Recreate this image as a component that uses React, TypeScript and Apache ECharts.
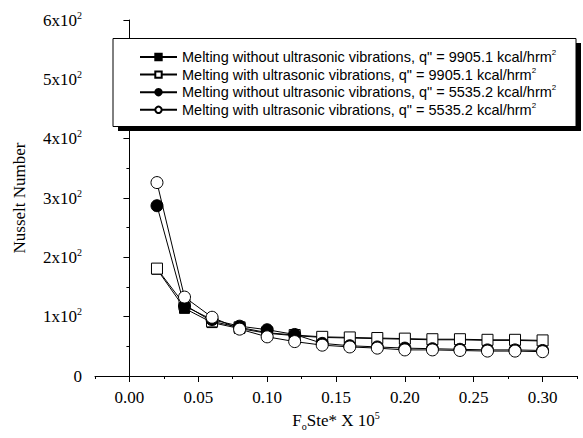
import React, { useEffect, useRef } from "react";
import * as echarts from "echarts";

const xValues = [0.02, 0.04, 0.06, 0.08, 0.1, 0.12, 0.14, 0.16, 0.18, 0.2, 0.22, 0.24, 0.26, 0.28, 0.3];
const withoutHigh = [180, 114, 90, 80, 72, 68, 65, 64, 63, 62, 61, 61, 60, 60, 59];
const withHigh = [181, 120, 92, 82, 73, 69, 66, 65, 64, 63, 62, 62, 61, 61, 60];
const withoutLow = [287, 118, 95, 84, 78, 70, 55, 51, 49, 47, 46, 45, 44, 44, 43];
const withLow = [326, 133, 99, 79, 66, 58, 52, 49, 47, 44, 44, 43, 42, 42, 41];

const seriesNames = [
  'Melting without ultrasonic vibrations, q" = 9905.1 kcal/hrm',
  'Melting with ultrasonic vibrations, q" = 9905.1 kcal/hrm',
  'Melting without ultrasonic vibrations, q" = 5535.2 kcal/hrm',
  'Melting with ultrasonic vibrations, q" = 5535.2 kcal/hrm',
];
const majorXTicks = [0, 0.05, 0.1, 0.15, 0.2, 0.25, 0.3];
const minorXTicks = [-0.025, 0.025, 0.075, 0.125, 0.175, 0.225, 0.275, 0.325];

const serif = "Liberation Serif";
const sans = "Liberation Sans";

export default function App() {
  const ref = useRef<HTMLDivElement>(null);
  useEffect(() => {
    if (!ref.current) return;
    const chart = echarts.init(ref.current, null, { renderer: "svg" });
    const mk = (name: string, data: number[], symbol: string, size: number, fill: string) => ({
      name,
      type: "line",
      data: xValues.map((x, i) => [x, data[i]]),
      symbol,
      symbolSize: size,
      showAllSymbol: true,
      lineStyle: { color: "#000", width: 1 },
      itemStyle: { color: fill, borderColor: "#000", borderWidth: 1 },
      emphasis: { disabled: true },
    });
    chart.setOption({
      animation: false,
      backgroundColor: "#fff",
      grid: { left: 95, right: 6, top: 20, bottom: 62 },
      graphic: [
        { type: "rect", shape: { x: 118, y: 43, width: 463, height: 88 }, style: { fill: "#000" }, z: 0 },
        { type: "rect", shape: { x: 113, y: 38.5, width: 463, height: 88 }, style: { fill: "#fff", stroke: "#000", lineWidth: 1 }, z: 1 },
      ],
      legend: {
        orient: "vertical",
        left: 139,
        top: 48.5,
        padding: 0,
        itemWidth: 37,
        itemHeight: 8,
        itemGap: 1.6,
        z: 5,
        data: seriesNames,
        formatter: (n: string) => `{a|${n}}{s|2}`,
        textStyle: {
          fontFamily: sans,
          fontSize: 14.5,
          color: "#000",
          rich: {
            a: { fontFamily: sans, fontSize: 14.5, color: "#000" },
            s: { fontFamily: sans, fontSize: 8, color: "#000", padding: [0, 0, 9, 0] },
          },
        },
      },
      xAxis: [
        {
          type: "value",
          min: -0.025,
          max: 0.325,
          position: "bottom",
          name: "{a|F}{b|o}{a|Ste* X 10}{s|5}",
          nameLocation: "middle",
          nameGap: 32,
          nameTextStyle: {
            fontFamily: serif,
            fontSize: 17,
            color: "#000",
            rich: {
              a: { fontFamily: serif, fontSize: 17, color: "#000" },
              b: { fontFamily: serif, fontSize: 10, color: "#000", padding: [12, 0, 0, 0] },
              s: { fontFamily: serif, fontSize: 10, color: "#000", padding: [0, 0, 10, 0] },
            },
          },
          axisLine: { show: true, lineStyle: { color: "#000", width: 1 } },
          axisTick: { show: true, length: 6, inside: false, lineStyle: { color: "#000" }, customValues: majorXTicks },
          axisLabel: {
            show: true,
            margin: 13,
            customValues: majorXTicks,
            formatter: (v: number) => v.toFixed(2),
            fontFamily: serif,
            fontSize: 17,
            color: "#000",
          },
          splitLine: { show: false },
        },
        {
          type: "value",
          min: -0.025,
          max: 0.325,
          position: "bottom",
          offset: 0,
          axisLine: { show: false },
          axisTick: { show: true, length: 3, lineStyle: { color: "#000" }, customValues: minorXTicks },
          axisLabel: { show: false },
          splitLine: { show: false },
        },
      ],
      yAxis: {
        type: "value",
        min: 0,
        max: 600,
        interval: 100,
        name: "Nusselt Number",
        nameLocation: "middle",
        nameGap: 67,
        nameTextStyle: { fontFamily: serif, fontSize: 17, color: "#000" },
        axisLine: { show: true, lineStyle: { color: "#000", width: 1 } },
        axisTick: { show: true, length: 6, lineStyle: { color: "#000" } },
        minorTick: { show: true, splitNumber: 2, length: 3, lineStyle: { color: "#000" } },
        axisLabel: {
          margin: 13,
          formatter: (v: number) => (v === 0 ? "{a|0}" : `{a|${v / 100}x10}{s|2}`),
          fontFamily: serif,
          fontSize: 17,
          color: "#000",
          rich: {
            a: { fontFamily: serif, fontSize: 17, color: "#000" },
            s: { fontFamily: serif, fontSize: 10, color: "#000", padding: [0, 0, 10, 0] },
          },
        },
        splitLine: { show: false },
      },
      series: [
        mk(seriesNames[0], withoutHigh, "rect", 10, "#000"),
        mk(seriesNames[1], withHigh, "rect", 11, "#fff"),
        mk(seriesNames[2], withoutLow, "circle", 12, "#000"),
        mk(seriesNames[3], withLow, "circle", 12, "#fff"),
      ],
    });
    return () => chart.dispose();
  }, []);
  return <div ref={ref} style={{ width: 583, height: 438, position: "absolute", left: 0, top: 0 }} />;
}
